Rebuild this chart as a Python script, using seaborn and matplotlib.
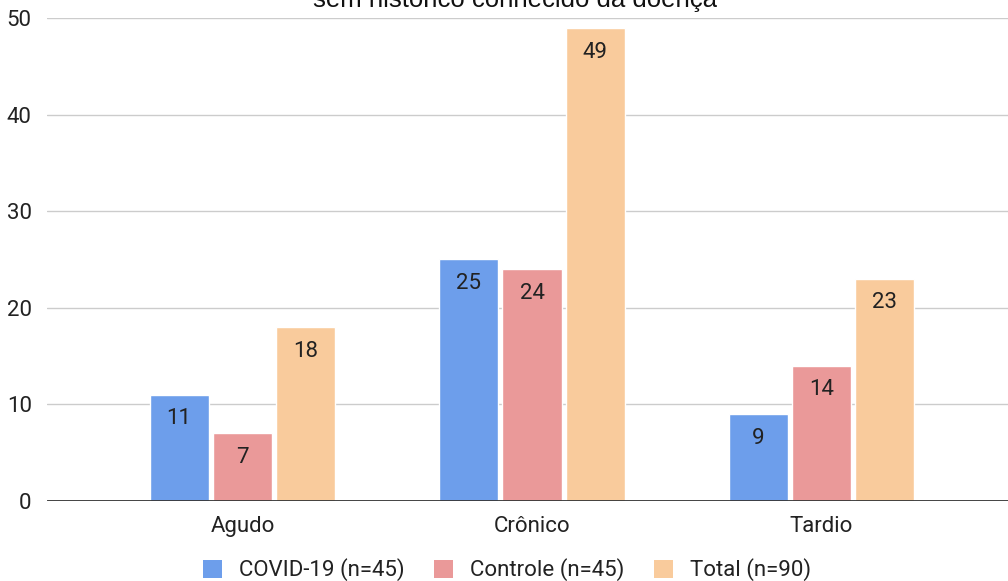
import matplotlib
matplotlib.use("Agg")
import matplotlib.pyplot as plt
import seaborn as sns
import pandas as pd
from matplotlib.patches import Patch

categories = ["Agudo", "Crônico", "Tardio"]
series_names = ["COVID-19 (n=45)", "Controle (n=45)", "Total (n=90)"]
covid = [11, 25, 9]
controle = [7, 24, 14]
total = [18, 49, 23]
colors = ["#6d9eeb", "#ea9999", "#f9cb9c"]
title_text = "sem histórico conhecido da doença"

rows = []
for name, vals in zip(series_names, [covid, controle, total]):
    for c, v in zip(categories, vals):
        rows.append({"Categoria": c, "Série": name, "Valor": v})
df = pd.DataFrame(rows)

sns.set_theme(style="white")
plt.rcParams["font.family"] = ["Roboto", "DejaVu Sans"]

W, H = 1008, 581
fig = plt.figure(figsize=(W / 100, H / 100), dpi=100)
left_px, right_px = 47, 1008
top_px, bot_px = 18.2, 500.7
ax = fig.add_axes([left_px / W, 1 - bot_px / H, (right_px - left_px) / W, (bot_px - top_px) / H])

sns.barplot(data=df, x="Categoria", y="Valor", hue="Série", hue_order=series_names,
            order=categories, palette=colors, width=0.656, gap=0.067,
            saturation=1, ax=ax, legend=False)

ax.set_xlim(-0.675, 2.644)
ax.set_ylim(0, 50)
ax.set_yticks([0, 10, 20, 30, 40, 50])
ax.yaxis.grid(True, color="#cccccc", linewidth=1)
ax.set_axisbelow(True)
for s in ax.spines.values():
    s.set_visible(False)
ax.axhline(0, color="#333333", linewidth=2, zorder=5)
ax.tick_params(axis="both", length=0, labelsize=16, colors="#222222")
ax.tick_params(axis="y", pad=11)
ax.tick_params(axis="x", pad=11)
ax.set_xlabel("")
ax.set_ylabel("")

for cont in ax.containers:
    ax.bar_label(cont, label_type="edge", padding=-25, fontsize=16, color="#222222")

fig.text(515 / W, 1 - 7 / H, title_text, ha="center", va="baseline", fontsize=18.5,
         color="#111111", family=["Liberation Sans", "DejaVu Sans"])

handles = [Patch(facecolor=c, edgecolor="none") for c in colors]
fig.legend(handles, series_names, loc="center", bbox_to_anchor=(507 / W, 1 - 570 / H),
           ncol=3, frameon=False, fontsize=16, handlelength=0.85, handleheight=0.85,
           handletextpad=0.75, columnspacing=1.35, labelcolor="#222222")

fig.savefig("out.png", dpi=100)
